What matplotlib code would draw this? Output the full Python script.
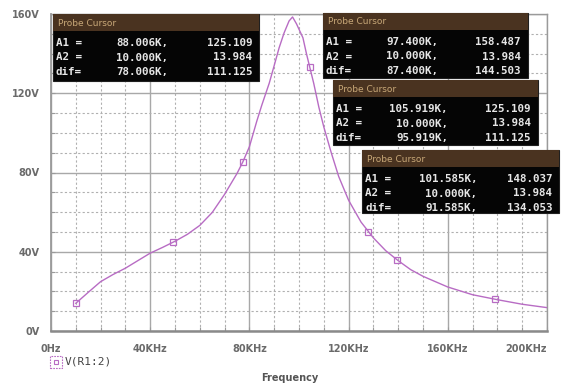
import matplotlib
matplotlib.use("Agg")
import matplotlib.pyplot as plt
from matplotlib.patches import Rectangle
from matplotlib.lines import Line2D
from matplotlib.ticker import MultipleLocator, FixedLocator

# ---- data ----
freq_khz = [10, 15, 20, 25, 30, 35, 40, 45, 50, 55, 60, 65, 70, 75, 77.3, 80, 83, 85,
            88.006, 90, 92, 94, 96, 97.4, 99, 101.585, 103, 105.919, 108, 110, 113, 116,
            120, 125, 130, 135, 140, 145, 150, 160, 170, 180, 190, 200]
volts = [13.98, 19.5, 24.9, 28.5, 31.7, 35.5, 39.3, 42.2, 45.3, 48.8, 53.3, 59.8, 69.0, 79.5,
         85.2, 93.0, 106.0, 114.0, 125.1, 134.0, 143.0, 150.5, 156.5, 158.5, 155.0, 148.0,
         140.0, 125.1, 113.0, 103.0, 90.0, 78.0, 66.0, 55.0, 47.0, 40.5, 35.5, 31.0, 27.6,
         22.2, 18.3, 15.8, 13.5, 11.8]
marker_khz = [10, 49.3, 77.3, 104.4, 127.9, 139.4, 179.0]
marker_v = [13.98, 44.7, 85.2, 133.5, 50.2, 35.9, 16.0]

x_ticks = [0, 40, 80, 120, 160, 200]
x_labels = ["0Hz", "40KHz", "80KHz", "120KHz", "160KHz", "200KHz"]
y_ticks = [0, 40, 80, 120, 160]
y_labels = ["0V", "40V", "80V", "120V", "160V"]

cursor_title = "Probe Cursor"
cur_a1_f = ["88.006K,", "97.400K,", "105.919K,", "101.585K,"]
cur_a1_v = ["125.109", "158.487", "125.109", "148.037"]
cur_a2_f = ["10.000K,", "10.000K,", "10.000K,", "10.000K,"]
cur_a2_v = ["13.984", "13.984", "13.984", "13.984"]
cur_d_f = ["78.006K,", "87.400K,", "95.919K,", "91.585K,"]
cur_d_v = ["111.125", "144.503", "111.125", "134.053"]
row_labels = ["A1 =", "A2 =", "dif="]
trace_name = "V(R1:2)"
x_title = "Frequency"

# ---- figure ----
W, H = 561, 383
fig = plt.figure(figsize=(W / 100, H / 100), dpi=100)
fig.patch.set_facecolor("white")

def fx(px):
    return px / W

def fy(py):
    return 1 - py / H

ax = fig.add_axes([fx(51), fy(331), fx(547) - fx(51), fy(14) - fy(331)])
ax.set_xlim(0, 200)
ax.set_ylim(0, 160)

line_c = "#b86cc4"
ax.plot(freq_khz, volts, color=line_c, lw=1.0, zorder=3)
ax.plot(marker_khz, marker_v, ls="none", marker="s", ms=4, mfc="none",
        mec=line_c, mew=0.9, zorder=4)

# grid
ax.xaxis.set_major_locator(FixedLocator(x_ticks))
ax.yaxis.set_major_locator(FixedLocator(y_ticks))
ax.xaxis.set_minor_locator(MultipleLocator(10))
ax.yaxis.set_minor_locator(MultipleLocator(10))
ax.grid(which="major", color="#a8a8a8", lw=1.0, ls="-", zorder=0)
ax.grid(which="minor", color="#b0b0b0", lw=0.8, ls=(0, (2, 2)), zorder=0)

for s in ax.spines.values():
    s.set_color("#9a9a9a")
    s.set_linewidth(1.0)
ax.spines["bottom"].set_linewidth(1.8)
ax.spines["bottom"].set_color("#8a8a8a")
ax.spines["left"].set_linewidth(1.3)

ax.set_xticklabels(x_labels)
ax.set_yticklabels(y_labels)
ax.tick_params(which="both", direction="in", color="#9a9a9a", length=3, width=0.8)
ax.tick_params(axis="x", which="major", pad=9, labelsize=7, labelcolor="#6a6a6a")
ax.tick_params(axis="y", which="major", pad=8, labelsize=7, labelcolor="#6a6a6a")
for t in ax.get_xticklabels() + ax.get_yticklabels():
    t.set_fontweight("bold")
ax.get_xticklabels()[-1].set_horizontalalignment("right")
ax.get_xticklabels()[-1].set_x(200)

# x title
fig.text(fx(290), fy(378), x_title, ha="center", va="center", fontsize=7,
         fontweight="bold", color="#555555")

# legend entry
fig.add_artist(Rectangle((fx(50), fy(368)), fx(12), fy(356) - fy(368), transform=fig.transFigure,
                         fill=False, ec=line_c, lw=0.8, ls=(0, (1.5, 1))))
fig.add_artist(Line2D([fx(56)], [fy(362)], transform=fig.transFigure, marker="s", ms=3.2,
                      mfc="none", mec=line_c, mew=0.8, ls="none"))
fig.text(fx(65), fy(362), trace_name, ha="left", va="center", fontsize=8,
         family="DejaVu Sans Mono", color="#444444")

# cursor boxes
boxes = [(53, 14, 259, 81), (323, 13, 528, 78), (333, 80, 538, 145), (362, 150, 559, 213)]
for i, (l, t, r, b) in enumerate(boxes):
    z = 10 + i * 3
    fig.add_artist(Rectangle((fx(l), fy(b)), fx(r) - fx(l), fy(t) - fy(b),
                             transform=fig.transFigure, fc="#050505", ec="#202020", lw=0.8, zorder=z))
    fig.add_artist(Rectangle((fx(l), fy(t + 17)), fx(r) - fx(l), fy(t) - fy(t + 17),
                             transform=fig.transFigure, fc="#4a3320", ec="none", zorder=z + 0.5))
    fig.text(fx(l + 5), fy(t + 9), cursor_title, ha="left", va="center", fontsize=6.5,
             color="#c8a878", zorder=z + 1)
    rows = [(cur_a1_f[i], cur_a1_v[i]), (cur_a2_f[i], cur_a2_v[i]), (cur_d_f[i], cur_d_v[i])]
    for k, (fv, vv) in enumerate(rows):
        yy = fy(t + 29 + 14.5 * k)
        kw = dict(va="center", fontsize=7.8, family="DejaVu Sans Mono", fontweight="bold",
                  color="#e6e6e6", zorder=z + 1)
        fig.text(fx(l + 3), yy, row_labels[k], ha="left", **kw)
        fig.text(fx(l + 115), yy, fv, ha="right", **kw)
        fig.text(fx(r - 7), yy, vv, ha="right", **kw)

fig.savefig("out.png", dpi=100, facecolor="white")
